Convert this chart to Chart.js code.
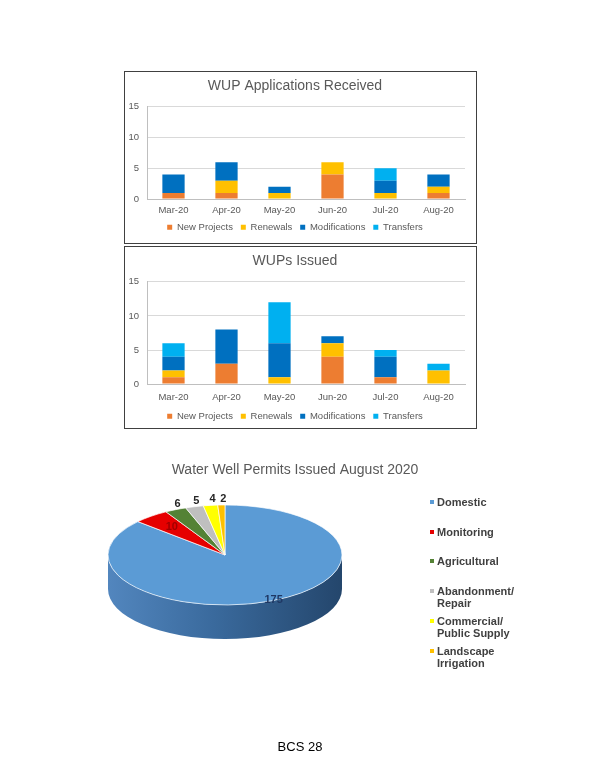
<!DOCTYPE html>
<html>
<head>
<meta charset="utf-8">
<script src="https://cdn.jsdelivr.net/npm/chart.js@4.4.1/dist/chart.umd.min.js"></script>
<style>
    body { margin: 0; background: #fff; font-family: 'Liberation Sans', Arial, sans-serif; }
    .frame { position: absolute; border: 1px solid #404040; background: #fff; }
    #pieBox { position: absolute; left: 0; top: 440px; width: 590px; height: 300px; }
    #pieLegend { position: absolute; left: 428px; top: 0; width: 100px; }
    .item { position: absolute; left: 0; width: 100px; font-weight: bold; font-size: 11px; line-height: 12px; color: #404040; }
    .item i { position: absolute; left: 2px; top: 4px; width: 4px; height: 4px; }
    .item span { display: block; margin-left: 9px; }
    #footer { position: absolute; left: 0; width: 600px; top: 739px; text-align: center; font-size: 13px; color: #000; }
</style>
</head>
<body>
<div class="frame" style="left:124px; top:71px; width:351px; height:171px;"><canvas id="receivedChart"></canvas></div>
<div class="frame" style="left:124px; top:246px; width:351px; height:181px;"><canvas id="issuedChart"></canvas></div>
<div id="pieBox"><canvas id="wellChart"></canvas></div>
<div id="pieLegend"></div>
<div id="footer">BCS 28</div>

<script>
// Données
const months = ['Mar-20', 'Apr-20', 'May-20', 'Jun-20', 'Jul-20', 'Aug-20'];
const seriesNames = ['New Projects', 'Renewals', 'Modifications', 'Transfers'];
const seriesColors = ['#ED7D31', '#FFC000', '#0070C0', '#00B0F0'];
const yTicks = [0, 5, 10, 15];

// WUP Applications Received
const recvNewProjects = [1, 1, 0, 4, 0, 1];
const recvRenewals = [0, 2, 1, 2, 1, 1];
const recvModifications = [3, 3, 1, 0, 2, 2];
const recvTransfers = [0, 0, 0, 0, 2, 0];

// WUPs Issued
const issNewProjects = [1, 3, 0, 4, 1, 0];
const issRenewals = [1, 0, 1, 2, 0, 2];
const issModifications = [2, 5, 5, 1, 3, 0];
const issTransfers = [2, 0, 6, 0, 1, 1];

// Water Well Permits Issued August 2020
const wellTypes = ['Domestic', 'Monitoring', 'Agricultural', 'Abandonment/ Repair', 'Commercial/ Public Supply', 'Landscape Irrigation'];
const wellCounts = [175, 10, 6, 5, 4, 2];
const wellColors = ['#5B9BD5', '#E60000', '#548235', '#BFBFBF', '#FFFF00', '#FFC000'];
const wellLabelColors = ['#1F3864', '#A00000', '#262626', '#262626', '#262626', '#262626'];

Chart.defaults.font.family = "'Liberation Sans', Arial, sans-serif";
Chart.defaults.color = '#595959';

// legend padding is 0 (keeps it low), so the gap between items comes from trailing spaces
function spacedLabels(chart) {
    const items = Chart.defaults.plugins.legend.labels.generateLabels(chart);
    items.forEach((item, i) => {
        if (i < items.length - 1) item.text += '\u00a0\u00a0\u00a0';
    });
    return items;
}

function stackedChart(id, title, values, bottomPad, tickPad) {
    const ctx = document.getElementById(id).getContext('2d');
    return new Chart(ctx, {
        type: 'bar',
        data: {
            labels: months,
            datasets: seriesNames.map((name, i) => ({
                label: name,
                data: values[i],
                backgroundColor: seriesColors[i],
                barPercentage: 0.42,
                categoryPercentage: 1
            }))
        },
        options: {
            responsive: true,
            maintainAspectRatio: false,
            animation: false,
            layout: { padding: { left: 0, right: 11, top: 0, bottom: bottomPad } },
            plugins: {
                title: {
                    display: true,
                    text: title,
                    color: '#595959',
                    font: { size: 14, weight: 'normal' },
                    padding: { top: 6, bottom: 12 }
                },
                legend: {
                    position: 'bottom',
                    labels: {
                        boxWidth: 5,
                        boxHeight: 5,
                        padding: 0,
                        font: { size: 9.5 },
                        color: '#595959',
                        generateLabels: spacedLabels
                    }
                },
                tooltip: { enabled: false }
            },
            scales: {
                x: {
                    stacked: true,
                    grid: { display: false, drawTicks: false },
                    border: { color: '#BFBFBF' },
                    ticks: { font: { size: 9.5 }, padding: tickPad, color: '#595959' }
                },
                y: {
                    stacked: true,
                    min: yTicks[0],
                    max: yTicks[yTicks.length - 1],
                    afterFit: (scale) => { scale.width = 22; },
                    afterBuildTicks: (scale) => { scale.ticks = yTicks.map(v => ({ value: v })); },
                    grid: { color: '#D9D9D9', drawTicks: false },
                    border: { color: '#BFBFBF' },
                    ticks: { font: { size: 9.5 }, padding: 8, color: '#595959' }
                }
            }
        }
    });
}

stackedChart('receivedChart', 'WUP Applications Received',
    [recvNewProjects, recvRenewals, recvModifications, recvTransfers], 1, 6);
stackedChart('issuedChart', 'WUPs Issued',
    [issNewProjects, issRenewals, issModifications, issTransfers], -3, 8);

// Camembert 3D : on écrase le disque en ellipse et on ajoute la tranche
const PIE = { cx: 225, cy: 115, rx: 117, ry: 50, depth: 34 };

function sideRange(s, e) {
    // part of the slice that lies on the front half (angles 0..PI)
    const twoPi = Math.PI * 2;
    while (s < 0) { s += twoPi; e += twoPi; }
    const out = [];
    for (const off of [0, -twoPi]) {
        const a = Math.max(s + off, 0), b = Math.min(e + off, Math.PI);
        if (b > a) out.push([a, b]);
    }
    return out;
}

const pie3d = {
    id: 'pie3d',
    beforeDatasetsDraw(chart) {
        const ctx = chart.ctx;
        const meta = chart.getDatasetMeta(0);
        const first = meta.data[0];
        const R = first.outerRadius;
        const { cx, cy, rx, ry, depth } = PIE;

        meta.data.forEach((arc, i) => {
            sideRange(arc.startAngle, arc.endAngle).forEach(([a, b]) => {
                ctx.beginPath();
                ctx.ellipse(cx, cy + depth, rx, ry, 0, a, b);
                ctx.ellipse(cx, cy, rx, ry, 0, b, a, true);
                ctx.closePath();
                if (i === 0) {
                    const g = ctx.createLinearGradient(cx - rx, 0, cx + rx, 0);
                    g.addColorStop(0, '#5286BE');
                    g.addColorStop(0.45, '#3A6A9D');
                    g.addColorStop(1, '#24466C');
                    ctx.fillStyle = g;
                } else {
                    ctx.fillStyle = '#555';
                }
                ctx.fill();
            });
        });

        ctx.save();
        ctx.translate(cx, cy);
        ctx.scale(rx / R, ry / R);
        ctx.translate(-first.x, -first.y);
    },
    afterDatasetsDraw(chart) {
        const ctx = chart.ctx;
        ctx.restore();
        const meta = chart.getDatasetMeta(0);
        const total = wellCounts.reduce((a, b) => a + b, 0);
        const { cx, cy, rx, ry } = PIE;
        ctx.save();
        ctx.font = "bold 11px 'Liberation Sans', Arial, sans-serif";
        ctx.textAlign = 'center';
        ctx.textBaseline = 'middle';
        meta.data.forEach((arc, i) => {
            const m = (arc.startAngle + arc.endAngle) / 2;
            const share = wellCounts[i] / total;
            let x, y;
            if (share > 0.5) {
                x = cx + Math.cos(m) * rx * 1.02;
                y = cy + Math.sin(m) * ry * 0.98;
            } else if (share > 0.04) {
                x = cx + Math.cos(m) * rx * 0.72;
                y = cy + Math.sin(m) * ry * 0.72;
            } else {
                x = cx + Math.cos(m) * rx + 2;
                y = cy + Math.sin(m) * ry - 6;
            }
            ctx.fillStyle = wellLabelColors[i];
            ctx.fillText(String(wellCounts[i]), x, y);
        });
        ctx.restore();
    }
};

new Chart(document.getElementById('wellChart').getContext('2d'), {
    type: 'pie',
    data: {
        labels: wellTypes,
        datasets: [{
            data: wellCounts,
            backgroundColor: wellColors,
            borderColor: '#fff',
            borderWidth: 1
        }]
    },
    options: {
        responsive: true,
        maintainAspectRatio: false,
        animation: false,
        plugins: {
            title: {
                display: true,
                text: 'Water Well Permits Issued August 2020',
                color: '#595959',
                font: { size: 14, weight: 'normal' },
                padding: { top: 22, bottom: 10 }
            },
            legend: { display: false },
            tooltip: { enabled: false }
        }
    },
    plugins: [pie3d]
});

// Légende du camembert
const legend = document.getElementById('pieLegend');
legend.style.top = '496px';
wellTypes.forEach((name, i) => {
    const el = document.createElement('div');
    el.className = 'item';
    el.style.top = (i * 29.7) + 'px';
    el.innerHTML = '<i style="background:' + wellColors[i] + '"></i><span>' + name + '</span>';
    legend.appendChild(el);
});
</script>
</body>
</html>
